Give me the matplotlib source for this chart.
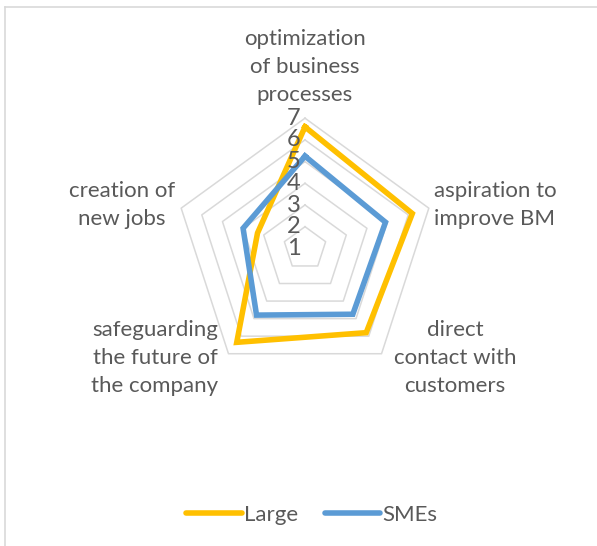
import numpy as np
import matplotlib.pyplot as plt

categories = ["optimization\nof business\nprocesses", "aspiration to\nimprove BM",
              "direct\ncontact with\ncustomers", "safeguarding\nthe future of\nthe company",
              "creation of\nnew jobs"]
large = [6.6, 6.2, 5.8, 6.35, 3.3]
smes = [5.25, 4.9, 4.75, 4.8, 4.0]
levels = [1, 2, 3, 4, 5, 6, 7]

plt.rcParams['font.family'] = ['Lato', 'DejaVu Sans']
W, H = 597, 546
fig = plt.figure(figsize=(W / 100, H / 100), dpi=100)

# radar centre ~ (305, 248) px, r=7 at 130 px
cx, cy, R = 305, 248.4, 130.2
ax = fig.add_axes([(cx - R) / W, (H - cy - R) / H, 2 * R / W, 2 * R / H], projection='polar')
ax.set_theta_offset(np.pi / 2)
ax.set_theta_direction(-1)
ax.set_ylim(1, 7)
ax.grid(False)
ax.spines['polar'].set_visible(False)
ax.set_xticks([])
ax.set_yticks([])
ax.patch.set_alpha(0)

n = len(categories)
theta = np.linspace(0, 2 * np.pi, n, endpoint=False)
theta_c = np.append(theta, theta[0])

# pentagon gridlines (no spokes)
for lv in levels[1:]:
    ax.plot(theta_c, [lv] * (n + 1), color='#D9D9D9', lw=1.1, zorder=1, clip_on=False)

ax.plot(theta_c, large + large[:1], color='#FFC000', lw=4.0, zorder=3, label='Large',
        solid_joinstyle='miter', clip_on=False)
ax.plot(theta_c, smes + smes[:1], color='#5B9BD5', lw=4.0, zorder=4, label='SMEs',
        solid_joinstyle='miter', clip_on=False)

txt = '#595959'
for lv in levels:
    ax.annotate(str(lv), xy=(0, lv), xytext=(-3, 0), textcoords='offset points',
                ha='right', va='center', fontsize=17, color=txt, zorder=5)

label_pos = [(305, 67), (495, 205), (455, 358), (155, 358), (122, 205)]
for lab, (x, y) in zip(categories, label_pos):
    fig.text(x / W, 1 - y / H, lab, ha='center', va='center', fontsize=16,
             color=txt, linespacing=1.5)

leg = fig.legend(loc='center', bbox_to_anchor=(312 / W, 1 - 515 / H), ncol=2, frameon=False,
                 fontsize=16, handlelength=2.5, handletextpad=0.1, columnspacing=1.2,
                 labelcolor=txt)
for h in leg.get_lines():
    h.set_solid_capstyle('round')

# chart border
fig.add_artist(plt.Line2D([5 / W, 5 / W], [0, 1 - 7 / H], color='#D9D9D9', lw=1.2))
fig.add_artist(plt.Line2D([5 / W, 1], [1 - 7 / H, 1 - 7 / H], color='#D9D9D9', lw=1.2))

fig.savefig('out.png', dpi=100)
